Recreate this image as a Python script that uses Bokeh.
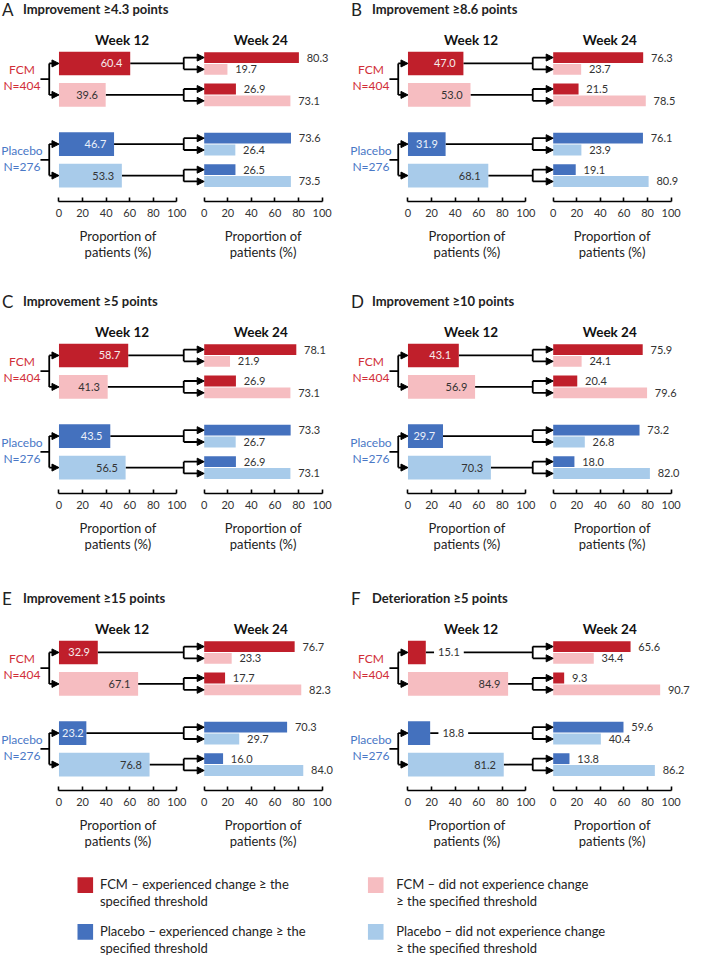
from bokeh.plotting import figure
from bokeh.layouts import column, row
from bokeh.models import Range1d, LinearAxis, FixedTicker, Arrow, NormalHead, ColumnDataSource
from bokeh.core.properties import value
from bokeh.embed import file_html
from bokeh.resources import INLINE

# ---------------- data ----------------
panel_letters = ["A", "B", "C", "D", "E", "F"]
panel_titles = ["Improvement \u22654.3 points", "Improvement \u22658.6 points",
                "Improvement \u22655 points", "Improvement \u226510 points",
                "Improvement \u226515 points", "Deterioration \u22655 points"]
groups = ["FCM", "Placebo"]
group_sizes = ["N=404", "N=276"]
week_labels = ["Week 12", "Week 24"]
x_ticks = [0, 20, 40, 60, 80, 100]
x_label_lines = ["Proportion of", "patients (%)"]

# Week 12: % experiencing / not experiencing the change
w12_fcm_exp = [60.4, 47.0, 58.7, 43.1, 32.9, 15.1]
w12_fcm_not = [39.6, 53.0, 41.3, 56.9, 67.1, 84.9]
w12_pbo_exp = [46.7, 31.9, 43.5, 29.7, 23.2, 18.8]
w12_pbo_not = [53.3, 68.1, 56.5, 70.3, 76.8, 81.2]

# Week 24, by Week-12 subgroup (first word) : experienced / not (second word)
w24_fcm_exp_exp = [80.3, 76.3, 78.1, 75.9, 76.7, 65.6]
w24_fcm_exp_not = [19.7, 23.7, 21.9, 24.1, 23.3, 34.4]
w24_fcm_not_exp = [26.9, 21.5, 26.9, 20.4, 17.7, 9.3]
w24_fcm_not_not = [73.1, 78.5, 73.1, 79.6, 82.3, 90.7]
w24_pbo_exp_exp = [73.6, 76.1, 73.3, 73.2, 70.3, 59.6]
w24_pbo_exp_not = [26.4, 23.9, 26.7, 26.8, 29.7, 40.4]
w24_pbo_not_exp = [26.5, 19.1, 26.9, 18.0, 16.0, 13.8]
w24_pbo_not_not = [73.5, 80.9, 73.1, 82.0, 84.0, 86.2]

legend_labels = [["FCM \u2013 experienced change \u2265 the", "specified threshold"],
                 ["FCM \u2013 did not experience change", "\u2265 the specified threshold"],
                 ["Placebo \u2013 experienced change \u2265 the", "specified threshold"],
                 ["Placebo \u2013 did not experience change", "\u2265 the specified threshold"]]

# ---------------- style / layout ----------------
FCM_DARK, FCM_LIGHT = "#C01F2B", "#F6BDC1"
PBO_DARK, PBO_LIGHT = "#4471BE", "#A8CBEA"
FCM_TXT, PBO_TXT = "#D12E38", "#4A78C6"
TXT = "#333333"
FONT = value("Lato")

KX = 692 / 710.0
KY = 957 / 973.0
U = 1.21          # reference px per percentage point
X0 = 60           # reference px of week-12 zero from panel left


def ux(rel):
    return (rel - X0) / U


OFF = ux(209)     # week-24 zero position in week-12 units
XB = ux(188)      # right bracket
XL0, XL1 = ux(41), ux(50)   # left stub
Y_BARS = [64, 96, 146, 178]
Y_TITLE, Y_WEEK, Y_AXIS = 9, 40.5, 204
Y_XLAB = [239, 256]
PANEL_W = [349, 343]
ROW_H = [292, 297, 268]
LEG_H = 957 - sum(ROW_H)


def make_panel(k, w_px, h_px):
    x_lo, x_hi = ux(0), ux(w_px / KX)
    p = figure(width=w_px, height=h_px, x_range=Range1d(x_lo, x_hi),
               y_range=Range1d(h_px / KY, 0), x_axis_type=None, y_axis_type=None,
               output_backend="svg", toolbar_location=None,
               min_border=0, min_border_left=0, min_border_right=0,
               min_border_top=0, min_border_bottom=0)
    p.outline_line_color = None
    p.extra_x_ranges = {"w24": Range1d(x_lo - OFF, x_hi - OFF)}

    w12 = [w12_fcm_exp[k], w12_fcm_not[k], w12_pbo_exp[k], w12_pbo_not[k]]
    w24_e = [w24_fcm_exp_exp[k], w24_fcm_not_exp[k], w24_pbo_exp_exp[k], w24_pbo_not_exp[k]]
    w24_n = [w24_fcm_exp_not[k], w24_fcm_not_not[k], w24_pbo_exp_not[k], w24_pbo_not_not[k]]
    w12_cols = [FCM_DARK, FCM_LIGHT, PBO_DARK, PBO_LIGHT]
    dark = [FCM_DARK, FCM_DARK, PBO_DARK, PBO_DARK]
    light = [FCM_LIGHT, FCM_LIGHT, PBO_LIGHT, PBO_LIGHT]

    # connector lines
    x0s, y0s, x1s, y1s = [], [], [], []
    ax0, ay0, ax1, ay1 = [], [], [], []
    for j in range(4):
        y = Y_BARS[j]
        x0s += [w12[j], XB]; y0s += [y, y - 6]; x1s += [XB, XB]; y1s += [y, y + 6]
        ax0 += [XB, XB]; ay0 += [y - 6, y + 6]; ax1 += [OFF, OFF]; ay1 += [y - 6, y + 6]
    for g in range(2):
        ya, yb = Y_BARS[2 * g], Y_BARS[2 * g + 1]
        mid = (ya + yb) / 2
        x0s += [XL0, XL1]; y0s += [mid, ya]; x1s += [XL1, XL1]; y1s += [mid, yb]
        ax0 += [XL1, XL1]; ay0 += [ya, yb]; ax1 += [0, 0]; ay1 += [ya, yb]
    p.segment(x0=x0s, y0=y0s, x1=x1s, y1=y1s, line_color="black", line_width=1.8)
    asrc = ColumnDataSource(dict(x0=ax0, y0=ay0, x1=ax1, y1=ay1))
    p.add_layout(Arrow(x_start="x0", y_start="y0", x_end="x1", y_end="y1", source=asrc,
                       line_color="black", line_width=1.8,
                       end=NormalHead(size=7, fill_color="black", line_color="black", line_width=1)))

    # bars
    p.hbar(y=Y_BARS, left=0, right=w12, height=24, fill_color=w12_cols, line_color=None)
    p.hbar(y=[y - 6 for y in Y_BARS], left=0, right=w24_e, height=11,
           fill_color=dark, line_color=None, x_range_name="w24")
    p.hbar(y=[y + 6 for y in Y_BARS], left=0, right=w24_n, height=11,
           fill_color=light, line_color=None, x_range_name="w24")

    # week-12 value labels
    in_x, in_y, in_t, in_c = [], [], [], []
    out_x, out_y, out_t = [], [], []
    for j in range(4):
        v = w12[j]
        if v >= 20:
            in_x.append(max(v - 6.6, min(v - 2.0, 21.0))); in_y.append(Y_BARS[j])
            in_t.append(f"{v:.1f}")
            in_c.append("#F6ECEC" if j == 0 else ("#ECF1FA" if j == 2 else TXT))
        else:
            out_x.append(v + 7.0); out_y.append(Y_BARS[j]); out_t.append(f"{v:.1f}")
    if in_x:
        p.text(x=in_x, y=in_y, text=in_t, text_color=in_c, text_font=FONT,
               text_font_size="11px", text_align="right", text_baseline="middle")
    if out_x:
        p.text(x=out_x, y=out_y, text=out_t, text_color=TXT, text_font=FONT,
               text_font_size="11px", text_align="left", text_baseline="middle",
               background_fill_color="white", padding=4)

    # week-24 value labels
    ly = [y - 6 for y in Y_BARS] + [y + 6 for y in Y_BARS]
    lv = w24_e + w24_n
    p.text(x=[v + 6.6 for v in lv], y=ly, text=[f"{v:.1f}" for v in lv], text_color=TXT,
           text_font=FONT, text_font_size="11px", text_align="left", text_baseline="middle",
           x_range_name="w24")

    # axes
    for rname in ["default", "w24"]:
        ax = LinearAxis(x_range_name=rname, ticker=FixedTicker(ticks=x_ticks), bounds=(0, 100),
                        fixed_location=Y_AXIS, major_tick_in=4, major_tick_out=0,
                        minor_tick_line_color=None, axis_line_width=1.6,
                        axis_line_color="black", major_tick_line_color="black",
                        major_tick_line_width=1.6, major_label_text_font="Lato",
                        major_label_text_font_size="11px", major_label_text_color=TXT,
                        major_label_standoff=8)
        p.add_layout(ax, "below")

    # axis titles
    for rname, xc in [("default", 50), ("w24", 50)]:
        p.text(x=[xc, xc], y=Y_XLAB, text=x_label_lines, text_color="#222222", text_font=FONT,
               text_font_size="13px", text_align="center", text_baseline="middle",
               x_range_name=rname)

    # week headers
    p.text(x=[53.5], y=[Y_WEEK], text=[week_labels[0]], text_color="#111111", text_font=FONT,
           text_font_size="13.5px", text_font_style="bold", text_align="center",
           text_baseline="middle")
    p.text(x=[48], y=[Y_WEEK], text=[week_labels[1]], text_color="#111111", text_font=FONT,
           text_font_size="13.5px", text_font_style="bold", text_align="center",
           text_baseline="middle", x_range_name="w24")

    # panel letter and title
    p.text(x=[ux(1.5)], y=[Y_TITLE], text=[panel_letters[k]], text_color="#222222",
           text_font=FONT, text_font_size="17px", text_align="left", text_baseline="middle")
    p.text(x=[ux(23)], y=[Y_TITLE], text=[panel_titles[k]], text_color="#222222",
           text_font=FONT, text_font_size="13px", text_font_style="bold",
           text_align="left", text_baseline="middle")

    # group labels
    gx = ux(22)
    gy, gt, gc = [], [], []
    for g in range(2):
        mid = (Y_BARS[2 * g] + Y_BARS[2 * g + 1]) / 2
        gy += [mid - 9.5, mid + 6.5]
        gt += [groups[g], group_sizes[g]]
        gc += [FCM_TXT if g == 0 else PBO_TXT] * 2
    p.text(x=[gx] * 4, y=gy, text=gt, text_color=gc, text_font=FONT, text_font_size="12px",
           text_align="center", text_baseline="middle")
    return p


panels = []
for k in range(6):
    r, c = divmod(k, 2)
    panels.append(make_panel(k, PANEL_W[c], ROW_H[r]))

# legend
leg = figure(width=sum(PANEL_W), height=LEG_H, x_range=Range1d(2, 2 + sum(PANEL_W) / KX),
             y_range=Range1d(LEG_H / KY, 0), x_axis_type=None, y_axis_type=None,
             output_backend="svg", toolbar_location=None, min_border=0,
             min_border_left=0, min_border_right=0, min_border_top=0, min_border_bottom=0)
leg.outline_line_color = None
sq_x = [89, 387, 89, 387]
sq_y = [28, 28, 75.5, 75.5]
leg.rect(x=sq_x, y=sq_y, width=16, height=16, fill_color=[FCM_DARK, FCM_LIGHT, PBO_DARK, PBO_LIGHT],
         line_color=None)
lx, lyy, lt = [], [], []
for i, lines in enumerate(legend_labels):
    for m, line in enumerate(lines):
        lx.append(104 if i % 2 == 0 else 408)
        lyy.append(sq_y[i] - 1 + 17.5 * m)
        lt.append(line)
leg.text(x=lx, y=lyy, text=lt, text_color="#222222", text_font=FONT, text_font_size="13px",
         text_align="left", text_baseline="middle")

layout = column(row(panels[0], panels[1], spacing=0), row(panels[2], panels[3], spacing=0),
                row(panels[4], panels[5], spacing=0), leg, spacing=0)

open("out.html", "w").write(file_html(layout, INLINE))
